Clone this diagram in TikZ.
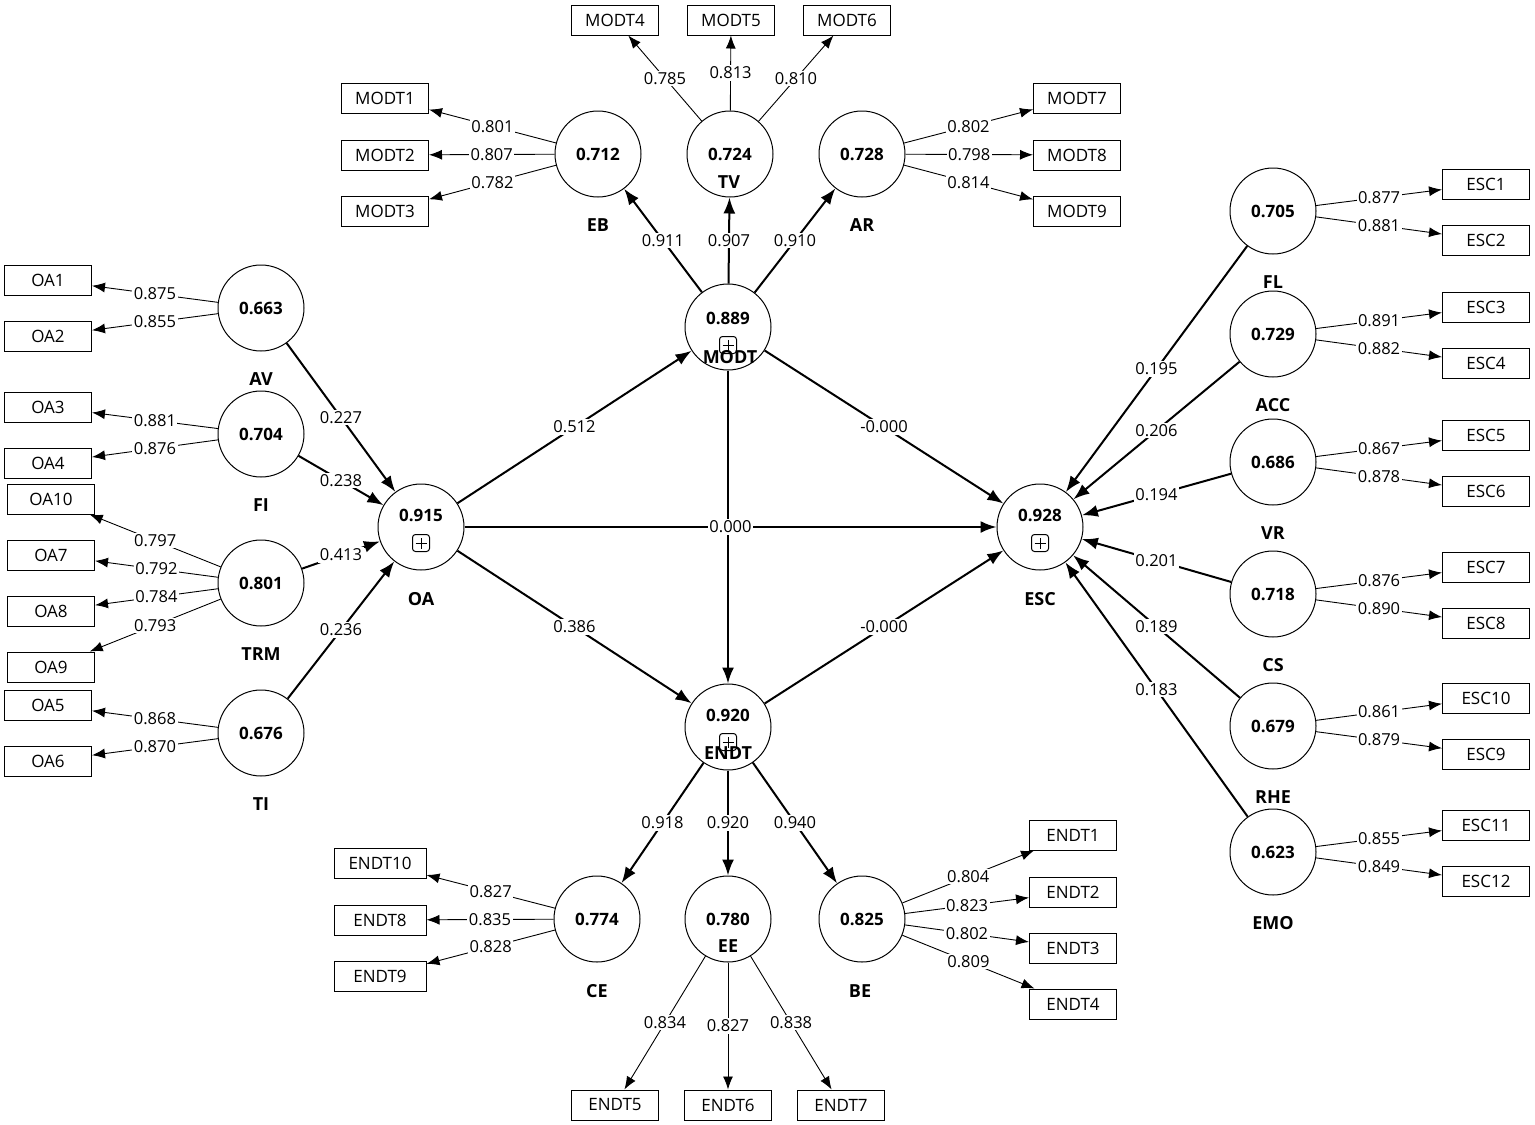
\documentclass[tikz,border=0pt]{standalone}
\usepackage{fontspec}
\setmainfont{Open Sans}
\usetikzlibrary{arrows.meta}
\begin{document}
\begin{tikzpicture}[x=1pt,y=-1pt,
  lat/.style={circle,draw,line width=1pt,minimum size=86pt,inner sep=0pt},
  ind/.style={rectangle,draw,line width=1pt,minimum width=87pt,minimum height=30pt,inner sep=0pt,font=\fontsize{17}{19}\selectfont},
  val/.style={font=\fontsize{17}{20}\selectfont\bfseries,inner sep=0pt},
  nm/.style={font=\fontsize{18}{21}\selectfont\bfseries,inner sep=0pt},
  ld/.style={line width=0.9pt,-{Latex[length=13pt,width=10pt]}},
  st/.style={line width=2pt,-{Latex[length=16pt,width=12pt]}},
  wl/.style={fill=white,inner sep=1.5pt,font=\fontsize{16.5}{18}\selectfont},
  pbox/.style={draw,rounded corners=3pt,minimum size=17pt,inner sep=0pt,line width=1pt,
    path picture={\draw[line width=1pt]
      ([xshift=-5.5pt]path picture bounding box.center)--([xshift=5.5pt]path picture bounding box.center)
      ([yshift=-5.5pt]path picture bounding box.center)--([yshift=5.5pt]path picture bounding box.center);}}
]
\useasboundingbox (0,0) rectangle (1535,1125);

% ---------- latent variables ----------
\node[lat] (EB)  at (598,154) {};
\node[lat] (TV)  at (730,154) {};
\node[lat] (AR)  at (862,154) {};
\node[lat] (MODT) at (728,327) {};
\node[lat] (AV)  at (261,308) {};
\node[lat] (FI)  at (261,434) {};
\node[lat] (TRM) at (261,583) {};
\node[lat] (TI)  at (261,733) {};
\node[lat] (OA)  at (421,527) {};
\node[lat] (ESC) at (1040,527) {};
\node[lat] (ENDT) at (728,727) {};
\node[lat] (CE)  at (597,919) {};
\node[lat] (EE)  at (728,919) {};
\node[lat] (BE)  at (862,919) {};
\node[lat] (FL)  at (1273,211) {};
\node[lat] (ACC) at (1273,334) {};
\node[lat] (VR)  at (1273,462) {};
\node[lat] (CS)  at (1273,594) {};
\node[lat] (RHE) at (1273,726) {};
\node[lat] (EMO) at (1273,852) {};

% values
\node[val] (EBv) at (598,154) {0.712};
\node[val] (TVv) at (730,154) {0.724};
\node[val] (ARv) at (862,154) {0.728};
\node[val] (MODTv) at (728,318) {0.889};
\node[val] (AVv) at (261,308) {0.663};
\node[val] (FIv) at (261,434) {0.704};
\node[val] (TRMv) at (261,583) {0.801};
\node[val] (TIv) at (261,733) {0.676};
\node[val] (OAv) at (421,515) {0.915};
\node[val] (ESCv) at (1040,515) {0.928};
\node[val] (ENDTv) at (728,715) {0.920};
\node[val] (CEv) at (597,919) {0.774};
\node[val] (EEv) at (728,919) {0.780};
\node[val] (BEv) at (862,919) {0.825};
\node[val] (FLv) at (1273,211) {0.705};
\node[val] (ACCv) at (1273,334) {0.729};
\node[val] (VRv) at (1273,462) {0.686};
\node[val] (CSv) at (1273,594) {0.718};
\node[val] (RHEv) at (1273,726) {0.679};
\node[val] (EMOv) at (1273,852) {0.623};

% plus boxes
\node[pbox] (MODTp) at (728,345) {};
\node[pbox] (OAp) at (421,543) {};
\node[pbox] (ESCp) at (1040,543) {};
\node[pbox] (ENDTp) at (728,742) {};

% names
\node[nm] (EBn) at (598,225) {EB};
\node[nm] (TVn) at (729,182) {TV};
\node[nm] (ARn) at (862,225) {AR};
\node[nm] (MODTn) at (730,357) {MODT};
\node[nm] (AVn) at (261,379) {AV};
\node[nm] (FIn) at (261,505) {FI};
\node[nm] (TRMn) at (261,654) {TRM};
\node[nm] (TIn) at (261,804) {TI};
\node[nm] (OAn) at (421,599) {OA};
\node[nm] (ESCn) at (1040,599) {ESC};
\node[nm] (ENDTn) at (728,753) {ENDT};
\node[nm] (CEn) at (597,991) {CE};
\node[nm] (EEn) at (728,946) {EE};
\node[nm] (BEn) at (860,991) {BE};
\node[nm] (FLn) at (1273,282) {FL};
\node[nm] (ACCn) at (1273,405) {ACC};
\node[nm] (VRn) at (1273,533) {VR};
\node[nm] (CSn) at (1273,665) {CS};
\node[nm] (RHEn) at (1273,797) {RHE};
\node[nm] (EMOn) at (1273,923) {EMO};

% ---------- indicators ----------
\node[ind] (M1) at (385,98) {MODT1};
\node[ind] (M2) at (385,155) {MODT2};
\node[ind] (M3) at (385,211) {MODT3};
\node[ind] (M4) at (615,20) {MODT4};
\node[ind] (M5) at (731,20) {MODT5};
\node[ind] (M6) at (847,20) {MODT6};
\node[ind] (M7) at (1077,98) {MODT7};
\node[ind] (M8) at (1077,155) {MODT8};
\node[ind] (M9) at (1077,211) {MODT9};

\node[ind] (O1) at (48,280) {OA1};
\node[ind] (O2) at (48,336) {OA2};
\node[ind] (O3) at (48,407) {OA3};
\node[ind] (O4) at (48,463) {OA4};
\node[ind] (O10) at (51,499) {OA10};
\node[ind] (O7) at (51,555) {OA7};
\node[ind] (O8) at (51,611) {OA8};
\node[ind] (O9) at (51,667) {OA9};
\node[ind] (O5) at (48,705) {OA5};
\node[ind] (O6) at (48,761) {OA6};

\node[ind] (S1) at (1486,184) {ESC1};
\node[ind] (S2) at (1486,240) {ESC2};
\node[ind] (S3) at (1486,307) {ESC3};
\node[ind] (S4) at (1486,363) {ESC4};
\node[ind] (S5) at (1486,435) {ESC5};
\node[ind] (S6) at (1486,491) {ESC6};
\node[ind] (S7) at (1486,567) {ESC7};
\node[ind] (S8) at (1486,623) {ESC8};
\node[ind] (S10) at (1486,698) {ESC10};
\node[ind] (S9) at (1486,754) {ESC9};
\node[ind] (S11) at (1486,825) {ESC11};
\node[ind] (S12) at (1486,881) {ESC12};

\node[ind,minimum width=92pt] (E10) at (380,863) {ENDT10};
\node[ind,minimum width=92pt] (E8) at (380,920) {ENDT8};
\node[ind,minimum width=92pt] (E9) at (380,976) {ENDT9};
\node[ind] (E1) at (1073,835) {ENDT1};
\node[ind] (E2) at (1073,892) {ENDT2};
\node[ind] (E3) at (1073,948) {ENDT3};
\node[ind] (E4) at (1073,1004) {ENDT4};
\node[ind] (E5) at (615,1105) {ENDT5};
\node[ind] (E6) at (728,1105) {ENDT6};
\node[ind] (E7) at (841,1105) {ENDT7};

% ---------- structural paths ----------
\draw[st] (MODT) -- node[wl]{0.911} (EB);
\draw[st] (MODT) -- node[wl]{0.907} (TV);
\draw[st] (MODT) -- node[wl]{0.910} (AR);
\draw[st] (ENDT) -- node[wl]{0.918} (CE);
\draw[st] (ENDT) -- node[wl]{0.920} (EE);
\draw[st] (ENDT) -- node[wl]{0.940} (BE);
\draw[st] (AV) -- node[wl]{0.227} (OA);
\draw[st] (FI) -- node[wl]{0.238} (OA);
\draw[st] (TRM) -- node[wl]{0.413} (OA);
\draw[st] (TI) -- node[wl]{0.236} (OA);
\draw[st] (MODT) -- (ENDT);
\draw[st] (OA) -- node[wl]{0.512} (MODT);
\draw[st] (OA) -- node[wl]{0.000} (ESC);
\draw[st] (OA) -- node[wl]{0.386} (ENDT);
\draw[st] (MODT) -- node[wl]{-0.000} (ESC);
\draw[st] (ENDT) -- node[wl]{-0.000} (ESC);
\draw[st] (FL) -- node[wl]{0.195} (ESC);
\draw[st] (ACC) -- node[wl]{0.206} (ESC);
\draw[st] (VR) -- node[wl]{0.194} (ESC);
\draw[st] (CS) -- node[wl]{0.201} (ESC);
\draw[st] (RHE) -- node[wl]{0.189} (ESC);
\draw[st] (EMO) -- node[wl]{0.183} (ESC);

% ---------- loadings ----------
\draw[ld] (EB) -- node[wl]{0.801} (M1);
\draw[ld] (EB) -- node[wl]{0.807} (M2);
\draw[ld] (EB) -- node[wl]{0.782} (M3);
\draw[ld] (TV) -- node[wl]{0.785} (M4);
\draw[ld] (TV) -- node[wl]{0.813} (M5);
\draw[ld] (TV) -- node[wl]{0.810} (M6);
\draw[ld] (AR) -- node[wl]{0.802} (M7);
\draw[ld] (AR) -- node[wl]{0.798} (M8);
\draw[ld] (AR) -- node[wl]{0.814} (M9);

\draw[ld] (AV) -- node[wl]{0.875} (O1);
\draw[ld] (AV) -- node[wl]{0.855} (O2);
\draw[ld] (FI) -- node[wl]{0.881} (O3);
\draw[ld] (FI) -- node[wl]{0.876} (O4);
\draw[ld] (TRM) -- node[wl]{0.797} (O10);
\draw[ld] (TRM) -- node[wl]{0.792} (O7);
\draw[ld] (TRM) -- node[wl]{0.784} (O8);
\draw[ld] (TRM) -- node[wl]{0.793} (O9);
\draw[ld] (TI) -- node[wl]{0.868} (O5);
\draw[ld] (TI) -- node[wl]{0.870} (O6);

\draw[ld] (FL) -- node[wl]{0.877} (S1);
\draw[ld] (FL) -- node[wl]{0.881} (S2);
\draw[ld] (ACC) -- node[wl]{0.891} (S3);
\draw[ld] (ACC) -- node[wl]{0.882} (S4);
\draw[ld] (VR) -- node[wl]{0.867} (S5);
\draw[ld] (VR) -- node[wl]{0.878} (S6);
\draw[ld] (CS) -- node[wl]{0.876} (S7);
\draw[ld] (CS) -- node[wl]{0.890} (S8);
\draw[ld] (RHE) -- node[wl]{0.861} (S10);
\draw[ld] (RHE) -- node[wl]{0.879} (S9);
\draw[ld] (EMO) -- node[wl]{0.855} (S11);
\draw[ld] (EMO) -- node[wl]{0.849} (S12);

\draw[ld] (CE) -- node[wl]{0.827} (E10);
\draw[ld] (CE) -- node[wl]{0.835} (E8);
\draw[ld] (CE) -- node[wl]{0.828} (E9);
\draw[ld] (EE) -- node[wl]{0.834} (E5);
\draw[ld] (EE) -- node[wl]{0.827} (E6);
\draw[ld] (EE) -- node[wl]{0.838} (E7);
\draw[ld] (BE) -- node[wl]{0.804} (E1);
\draw[ld] (BE) -- node[wl]{0.823} (E2);
\draw[ld] (BE) -- node[wl]{0.802} (E3);
\draw[ld] (BE) -- node[wl]{0.809} (E4);
\end{tikzpicture}
\end{document}
